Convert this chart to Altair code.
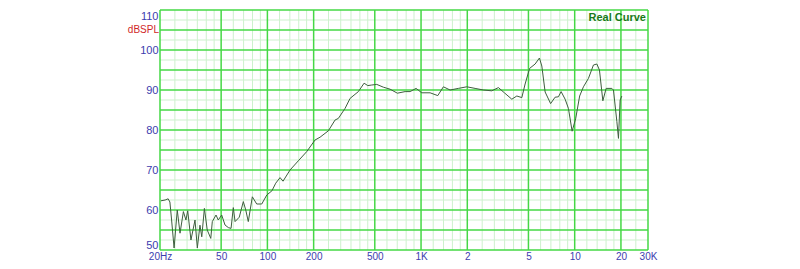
import altair as alt
import pandas as pd

# Frequency response (Hz, dB SPL)
freq_hz = [20.3, 21.6, 22.6, 23.2, 23.8, 24.7, 25.9, 27.0, 28.4, 29.5, 30.3, 31.8,
           33.8, 35.0, 36.4, 37.4, 38.9, 40.6, 42.8, 43.8, 46.3, 47.9, 50.4, 53.0,
           55.7, 58.0, 60.0, 61.6, 65.6, 69.7, 72.3, 75.1, 79.8, 85.2, 91.9, 99.1,
           107, 113.3, 120.9, 126.4, 140.4, 159.0, 180.3, 204.2, 220.2, 249.3, 275.7,
           289.7, 320.3, 345.2, 390.9, 425.9, 450.2, 477.9, 515.1, 568.6, 628.8,
           701.3, 787.4, 848.6, 928.6, 1011, 1145, 1285, 1398, 1545, 1750, 1985,
           2248, 2546, 2887, 3188, 3487, 3897, 4201, 4528, 4757, 5089, 5527, 5895,
           6110, 6421, 6971, 7456, 7835, 8159, 8664, 9104, 9622, 10145, 10771,
           11403, 12288, 13246, 13938, 14491, 15249, 16020, 17457, 17880, 18814,
           19270, 19761, 20272]
spl_db = [62.3, 62.5, 62.8, 62.0, 57.5, 50.5, 60.0, 54.2, 59.6, 57.5, 59.8, 52.5,
          57.5, 50.5, 56.2, 53.3, 60.4, 55.0, 52.9, 57.1, 58.75, 57.5, 58.75, 56.25,
          55.6, 55.4, 60.6, 57.1, 58.2, 62.1, 60.0, 57.1, 63.3, 61.5, 61.5, 63.75,
          64.8, 66.7, 68.1, 67.2, 70.0, 72.3, 74.6, 77.5, 78.2, 79.8, 82.5,
          82.9, 85.4, 87.9, 89.6, 91.7, 91.1, 91.25, 91.4, 90.7, 90.2,
          89.2, 89.6, 89.6, 90.4, 89.3, 89.3, 88.6, 90.8, 90.0, 90.4, 90.8,
          90.4, 90.0, 89.8, 90.6, 89.3, 87.7, 88.5, 88.1, 91.5, 95.4, 96.5, 98.0,
          96.0, 89.5, 86.6, 88.2, 88.3, 89.6, 87.7, 85.4, 79.7, 82.8, 88.5,
          90.8, 92.9, 96.25, 96.5, 95.0, 87.3, 90.4, 90.4, 90.0, 82.1,
          77.9, 87.5, 88.5]

x_major = [20, 50, 100, 200, 500, 1000, 2000, 5000, 10000, 20000, 30000]
x_labels = ["20Hz", "50", "100", "200", "500", "1K", "2", "5", "10", "20", "30K"]
x_minor_mult = [1.2, 1.4, 1.6, 1.8, 2.5, 3, 3.5, 4, 4.5, 6, 7, 8, 9]
y_major = [50, 55, 60, 65, 70, 75, 80, 85, 90, 95, 100, 105, 110]
y_minor = [52.5, 57.5, 62.5, 67.5, 72.5, 77.5, 82.5, 87.5, 92.5, 97.5, 102.5, 107.5]
y_labels = [50, 60, 70, 80, 90, 100, 110]

x_minor = []
for dec in [10, 100, 1000, 10000]:
    for m in x_minor_mult:
        v = round(m * dec, 6)
        if 20 < v < 30000 and v not in x_major:
            x_minor.append(v)

xs = alt.Scale(type="log", domain=[20, 30000], nice=False)
ys = alt.Scale(domain=[50, 110], nice=False, zero=False)

MAJOR = "#45d845"
MINOR = "#cdf1cd"
BLUE = "#3c3cae"

label_expr = " : ".join(
    f"datum.value == {v} ? '{t}'" for v, t in zip(x_major, x_labels)
) + " : ''"

x_axis = alt.Axis(values=x_major, labelExpr=label_expr, grid=False,
                  domain=False, ticks=False, labelPadding=1, title=None,
                  labelFlush=False, labelOverlap=False,
                  labelColor=BLUE, labelFontSize=10, labelFont="Liberation Sans")
y_axis = alt.Axis(values=y_labels, grid=False, domain=False, ticks=False,
                  labelPadding=2, labelFlush=True, labelColor=BLUE, title=None,
                  labelFontSize=11, labelFont="Liberation Sans")


def X(field):
    return alt.X(field, scale=xs, axis=x_axis, title=None)


def Y(field):
    return alt.Y(field, scale=ys, axis=y_axis, title=None)


curve = pd.DataFrame({"f": freq_hz, "db": spl_db})

vminor = alt.Chart(pd.DataFrame({"f": x_minor})).mark_rule(
    color=MINOR, strokeWidth=1).encode(x=X("f:Q"))
hminor = alt.Chart(pd.DataFrame({"db": y_minor})).mark_rule(
    color=MINOR, strokeWidth=1).encode(y=Y("db:Q"))
vmajor = alt.Chart(pd.DataFrame({"f": x_major})).mark_rule(
    color=MAJOR, strokeWidth=1.5).encode(x=X("f:Q"))
hmajor = alt.Chart(pd.DataFrame({"db": y_major})).mark_rule(
    color=MAJOR, strokeWidth=1.5).encode(y=Y("db:Q"))

line = alt.Chart(curve).mark_line(color="#3d5f3d", strokeWidth=1).encode(
    x=X("f:Q"), y=Y("db:Q"), order=alt.Order("f:Q"),
)

unit = alt.Chart(pd.DataFrame({"t": ["dBSPL"], "db": [105]})).mark_text(
    color="#d02828", fontSize=10, font="Liberation Sans", align="right",
    baseline="middle", dx=-1).encode(
    x=alt.value(0), y=Y("db:Q"), text="t:N")

title = alt.Chart(pd.DataFrame({"t": ["Real Curve"]})).mark_text(
    color="#187a18", fontSize=11, fontWeight="bold", font="Liberation Sans",
    align="right", baseline="middle").encode(
    x=alt.value(486), y=alt.value(8), text="t:N")

chart = alt.layer(vminor, hminor, vmajor, hmajor, line, unit, title).properties(
    width=488, height=240,
    autosize=alt.AutoSizeParams(type="none"),
    padding={"left": 160, "top": 10, "right": 152, "bottom": 19},
    background="white",
).configure_view(stroke=None)

chart.save("out.html", embed_options={"renderer": "svg", "actions": False})
